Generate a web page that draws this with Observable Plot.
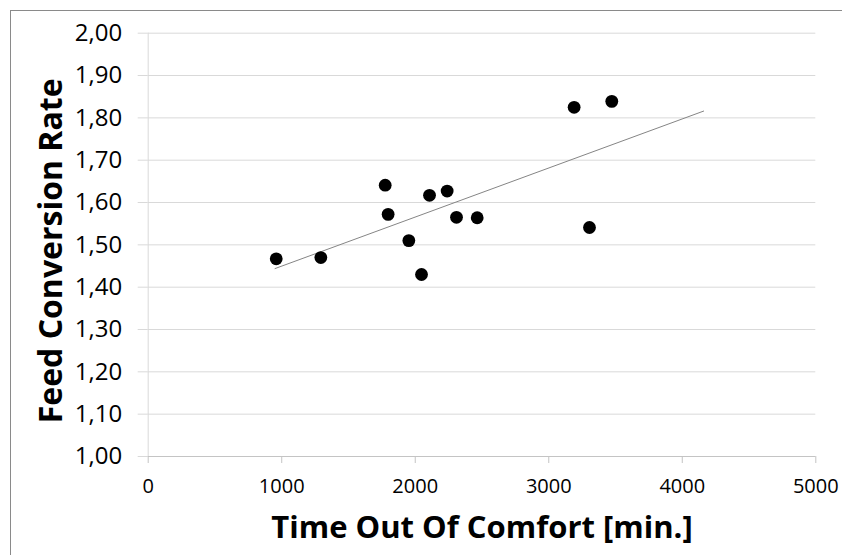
<!DOCTYPE html>
<html>
<head>
<meta charset="utf-8">
<script src="https://cdn.jsdelivr.net/npm/d3@7"></script>
<script src="https://cdn.jsdelivr.net/npm/@observablehq/plot@0.6"></script>
<style>
  html, body { margin: 0; padding: 0; background: #fff; overflow: hidden; }
  #wrap { position: relative; width: 842px; height: 555px; }
  #border { position: absolute; left: 10px; top: 10px; width: 860px; height: 600px;
            border: 1px solid #8a8a8a; box-sizing: border-box; pointer-events: none; }
  #chart { position: absolute; left: 0; top: 0; }
</style>
</head>
<body>
<div id="wrap"><div id="chart"></div><div id="border"></div></div>
<script>
// Data
const timeOutOfComfort = [959, 1293, 1775, 1797, 1952, 2047, 2107, 2239, 2309, 2464, 3190, 3305, 3472];
const feedConversion   = [1.467, 1.470, 1.641, 1.572, 1.510, 1.430, 1.617, 1.627, 1.565, 1.564, 1.825, 1.541, 1.839];
const trendX = [950, 4160];
const trendY = [1.444, 1.816];
const xTicks = [0, 1000, 2000, 3000, 4000, 5000];
const yTicks = [1.0, 1.1, 1.2, 1.3, 1.4, 1.5, 1.6, 1.7, 1.8, 1.9, 2.0];
const xTitle = "Time Out Of Comfort [min.]";
const yTitle = "Feed Conversion Rate";

const points = timeOutOfComfort.map((x, i) => ({x, y: feedConversion[i]}));
const trend = trendX.map((x, i) => ({x, y: trendY[i]}));
const fmtY = d => d.toFixed(2).replace(".", ",");

const chart = Plot.plot({
  width: 842,
  height: 555,
  marginLeft: 147.7,
  marginRight: 26.7,
  marginTop: 32.7,
  marginBottom: 99,
  style: {fontFamily: "'Open Sans', sans-serif", background: "transparent", color: "#000"},
  x: {domain: [0, 5000]},
  y: {domain: [1, 2]},
  marks: [
    Plot.ruleY(yTicks.slice(1), {stroke: "#d9d9d9", strokeWidth: 1}),
    Plot.ruleX([0], {stroke: "#d9d9d9", strokeWidth: 1}),
    Plot.ruleY([1], {stroke: "#c4c4c4", strokeWidth: 1}),
    Plot.axisY({ticks: yTicks, tickFormat: fmtY, tickSize: 10, tickPadding: 16,
                fontSize: 24, stroke: "#d9d9d9", fill: "#000", label: null}),
    Plot.axisX({ticks: xTicks, tickFormat: d => String(d), tickSize: 7, tickPadding: 15,
                fontSize: 20, stroke: "#c4c4c4", fill: "#000", label: null}),
    Plot.line(trend, {x: "x", y: "y", stroke: "#858585", strokeWidth: 1}),
    Plot.dot(points, {x: "x", y: "y", r: 6.4, fill: "#000", stroke: "none"}),
    Plot.text([xTitle], {frameAnchor: "bottom", dy: 72, text: d => d,
                         textAnchor: "middle", lineAnchor: "middle",
                         fontSize: 31, fontWeight: "bold", fill: "#000"}),
    Plot.text([yTitle], {frameAnchor: "left", dx: -96, dy: 6, rotate: -90, text: d => d,
                         textAnchor: "middle", lineAnchor: "middle",
                         fontSize: 32, fontWeight: "bold", fill: "#000"})
  ]
});
document.getElementById("chart").appendChild(chart);
</script>
</body>
</html>
